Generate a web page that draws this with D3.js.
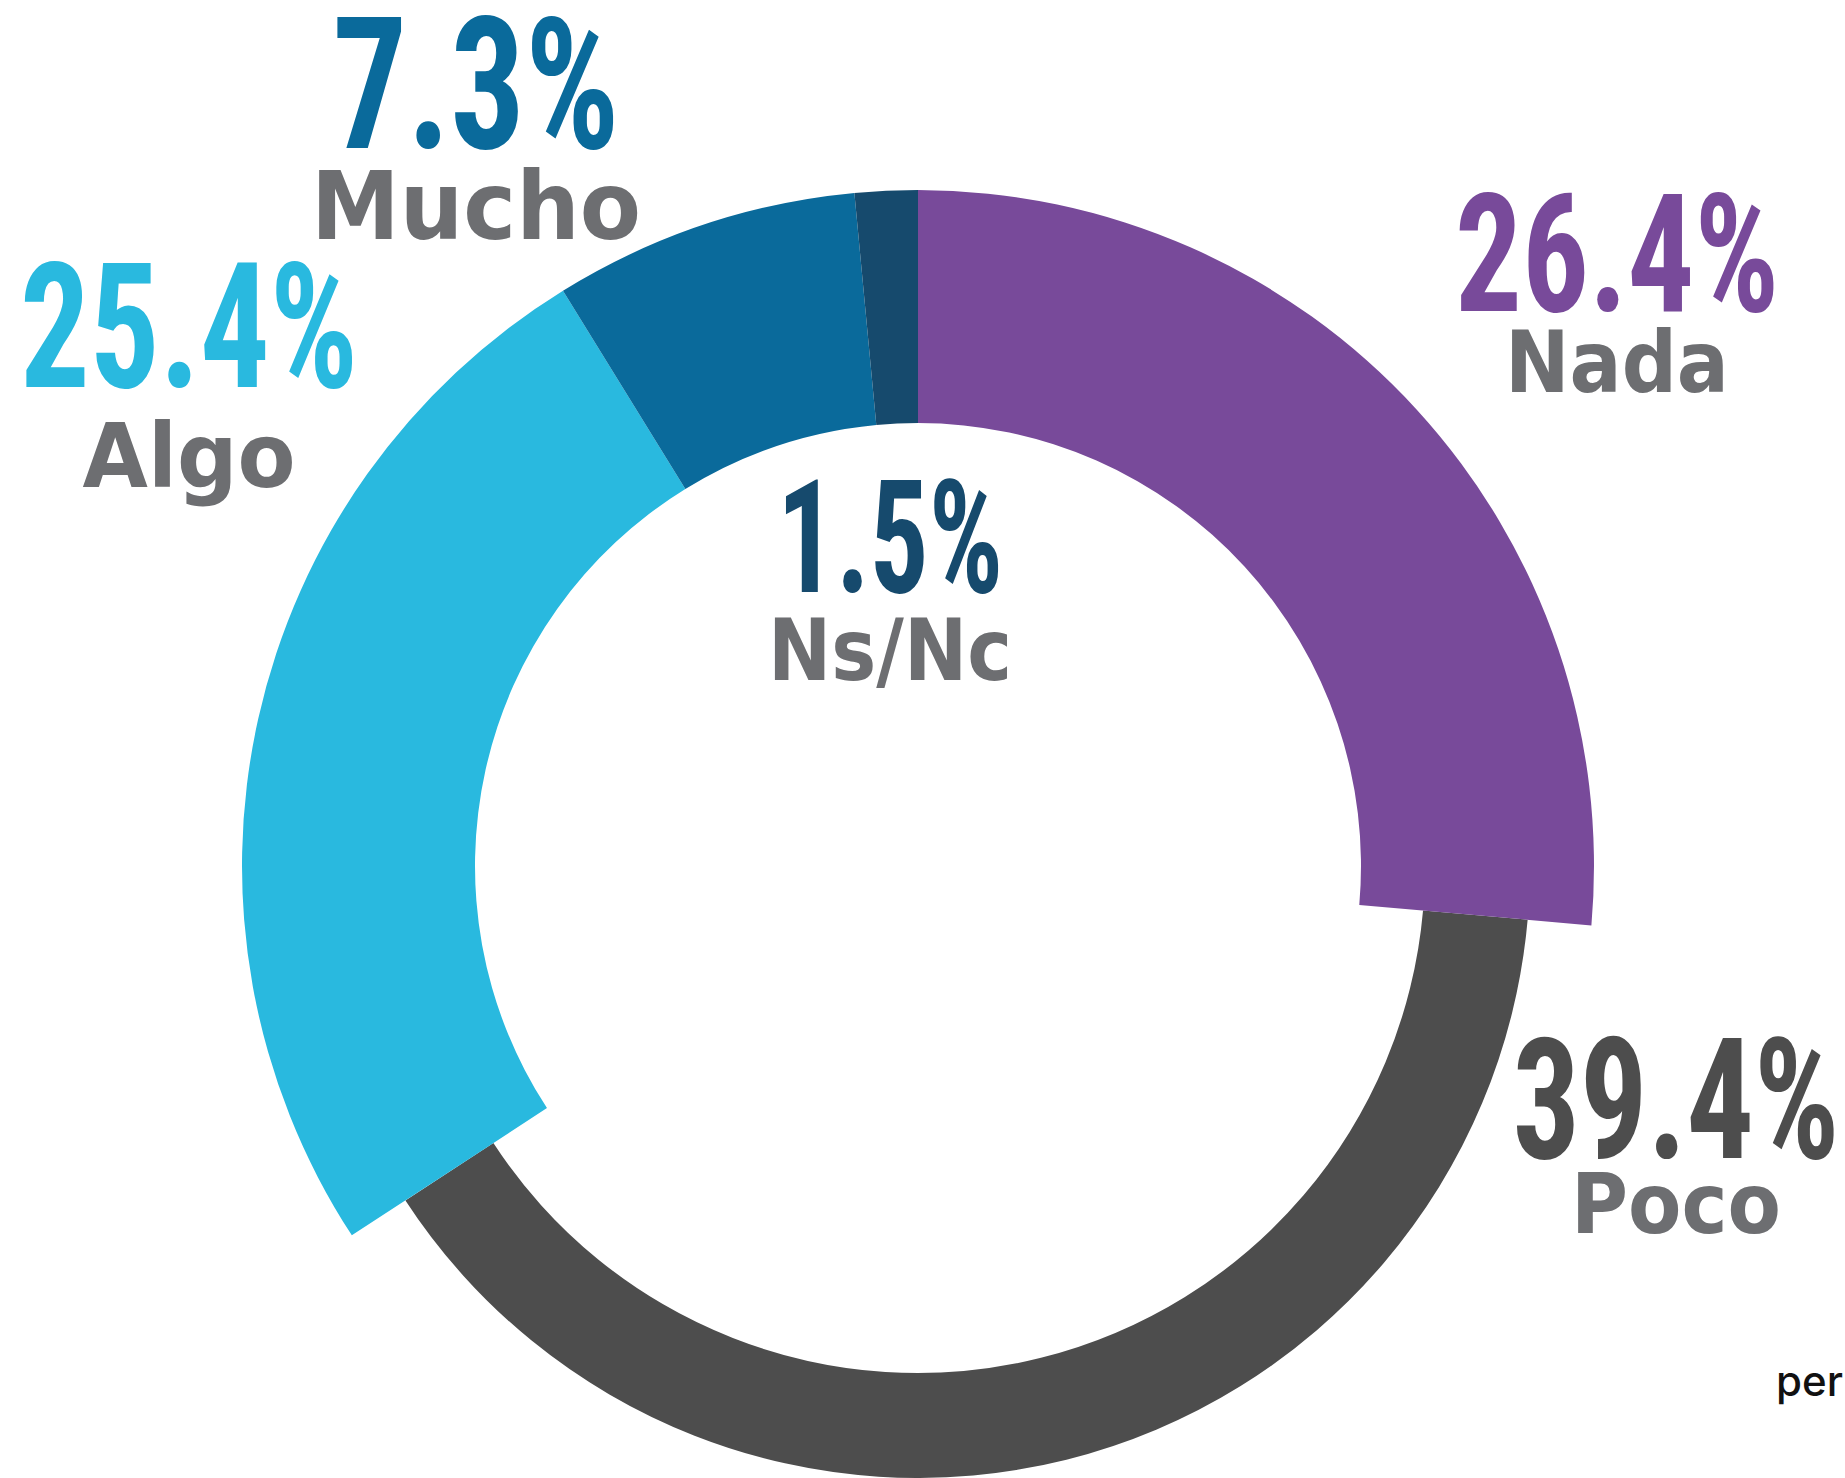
<!DOCTYPE html>
<html>
<head>
<meta charset="utf-8">
<script src="https://cdn.jsdelivr.net/npm/d3@7"></script>
<style>
  body { margin: 0; background: #fff; overflow: hidden; }
</style>
</head>
<body>
<div id="graph"></div>
<script>
// data
var categories = ["Nada", "Poco", "Algo", "Mucho", "Ns/Nc"];
var values = [26.4, 39.4, 25.4, 7.3, 1.5];
var colors = ["#784a9a", "#4d4d4d", "#29b9df", "#0a6a9b", "#164a6d"];

var width = 1845;
var height = 1478;
var cx = 918, cy = 866;

// Poco is drawn as a thinner ring
var thickInner = 443, thickOuter = 676;
var thinInner = 507, thinOuter = 612;

// where each label sits (centre x, number baseline/width/size, label baseline/width/size)
var labelPos = {
  "Nada":  { x: 1617, numY: 311, numW: 324, numSize: 166, labY: 392, labW: 224, labSize: 86 },
  "Poco":  { x: 1676, numY: 1158, numW: 327, numSize: 168, labY: 1233, labW: 210, labSize: 84 },
  "Algo":  { x: 189, numY: 387, numW: 338, numSize: 174, labY: 487, labW: 213, labSize: 89 },
  "Mucho": { x: 476, numY: 148, numW: 287, numSize: 184, labY: 239, labW: 330, labSize: 95 },
  "Ns/Nc": { x: 890, numY: 592, numW: 226, numSize: 157, labY: 680, labW: 244, labSize: 85 }
};

var data = categories.map(function(c, i) { return { cat: c, value: values[i], color: colors[i] }; });

var svg = d3.select('#graph')
  .append('svg')
  .attr('width', width)
  .attr('height', height);

var g = svg.append('g')
  .attr('transform', 'translate(' + cx + ',' + cy + ')');

var pie = d3.pie()
  .value(function(d) { return d.value; })
  .sort(null);

var arc = d3.arc()
  .innerRadius(function(d) { return d.data.cat === "Poco" ? thinInner : thickInner; })
  .outerRadius(function(d) { return d.data.cat === "Poco" ? thinOuter : thickOuter; });

// draw Poco first so the thick slices sit over its ends
var arcs = pie(data);
var ordered = arcs.slice().sort(function(a, b) {
  return (a.data.cat === "Poco" ? 0 : 1) - (b.data.cat === "Poco" ? 0 : 1);
});

g.selectAll('path')
  .data(ordered)
  .enter()
  .append('path')
  .attr('d', arc)
  .attr('fill', function(d) { return d.data.color; })
  .attr('stroke', 'none');

// squeeze a text horizontally to a given width, centred on x
function fitText(sel, x, y, w) {
  sel.each(function(d) {
    var t = d3.select(this);
    var natural = this.getComputedTextLength();
    var sx = w(d) / natural;
    t.attr('x', 0).attr('y', 0)
      .attr('transform', 'translate(' + (x(d) - w(d) / 2) + ',' + y(d) + ') scale(' + sx + ',1)');
  });
}

var labels = svg.selectAll('g.lab')
  .data(data)
  .enter()
  .append('g')
  .attr('class', 'lab');

labels.append('text')
  .attr('font-family', 'Roboto, sans-serif')
  .style('font-stretch', 'condensed')
  .attr('font-weight', 700)
  .attr('font-size', function(d) { return labelPos[d.cat].numSize; })
  .attr('fill', function(d) { return d.color; })
  .text(function(d) { return d.value.toFixed(1) + "%"; })
  .call(fitText,
    function(d) { return labelPos[d.cat].x; },
    function(d) { return labelPos[d.cat].numY; },
    function(d) { return labelPos[d.cat].numW; });

labels.append('text')
  .attr('font-family', '"DejaVu Sans", sans-serif')
  .attr('font-weight', 700)
  .attr('font-size', function(d) { return labelPos[d.cat].labSize; })
  .attr('fill', '#6d6e71')
  .text(function(d) { return d.cat; })
  .call(fitText,
    function(d) { return labelPos[d.cat].x; },
    function(d) { return labelPos[d.cat].labY; },
    function(d) { return labelPos[d.cat].labW; });

// cut-off source text at the bottom right
svg.append('text')
  .attr('x', 1776)
  .attr('y', 1396)
  .attr('font-family', 'Inter, sans-serif')
  .attr('font-weight', 500)
  .attr('font-size', 42)
  .attr('fill', '#111')
  .text('per');
</script>
</body>
</html>
